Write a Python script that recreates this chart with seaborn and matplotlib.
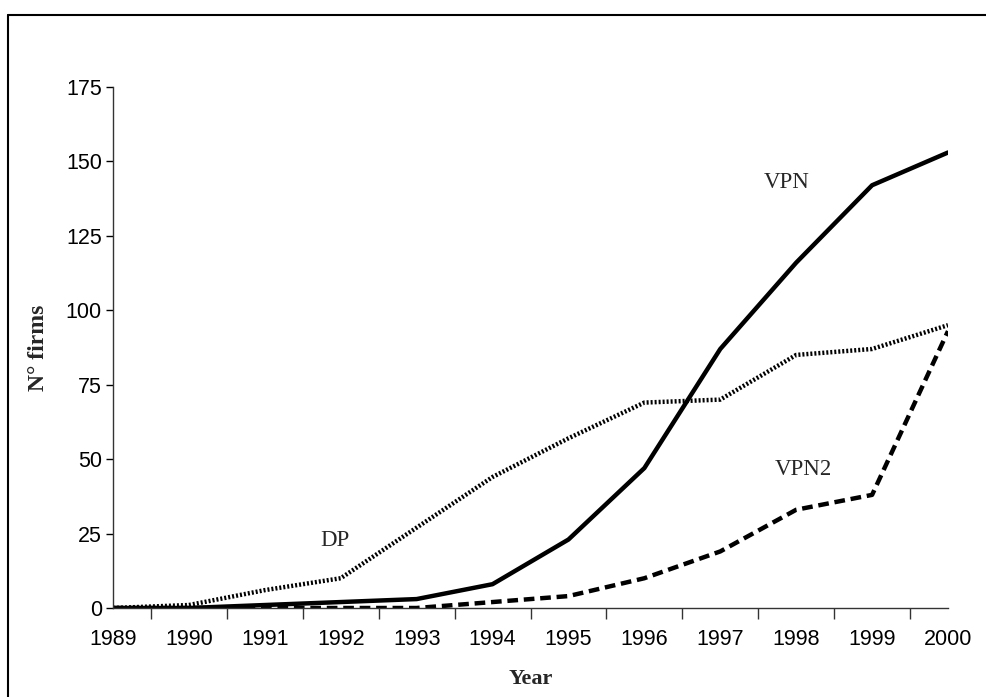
import matplotlib.pyplot as plt
import numpy as np
import pandas as pd
import seaborn as sns
from matplotlib.lines import Line2D
from matplotlib.ticker import MultipleLocator

# values
years = list(range(1989, 2001))
vpn = [0, 0, 1, 2, 3, 8, 23, 47, 87, 116, 142, 153]
dp = [0, 1, 6, 10, 27, 44, 57, 69, 70, 85, 87, 95]
vpn2 = [0, 0, 0, 0, 0, 2, 4, 10, 19, 33, 38, 93]
y_ticks = [0, 25, 50, 75, 100, 125, 150, 175]

df = pd.DataFrame({"year": years, "VPN": vpn, "DP": dp, "VPN2": vpn2})

sns.set_theme(style="white")
plt.rcParams.update({"font.family": ["Liberation Sans", "DejaVu Sans"]})

fig = plt.figure(figsize=(9.86, 6.97), dpi=100)
ax = fig.add_axes([113 / 986, 1 - 608 / 697, (948 - 113) / 986, (608 - 87) / 697])

sns.lineplot(data=df, x="year", y="VPN", ax=ax, color="black", lw=3.2, linestyle="-")
sns.lineplot(data=df, x="year", y="DP", ax=ax, color="black", lw=3.2,
             linestyle=(0, (0.45, 0.45)), dash_capstyle="butt")
sns.lineplot(data=df, x="year", y="VPN2", ax=ax, color="black", lw=3.2,
             linestyle=(0, (2.4, 1.3)), dash_capstyle="butt")

ax.set_xlim(1989, 2000)
ax.set_ylim(0, 175)
ax.set_yticks(y_ticks)
ax.set_xticks(years)
ax.set_xticklabels([str(y) for y in years])
ax.xaxis.set_minor_locator(MultipleLocator(1, offset=0.5))
ax.tick_params(axis="x", which="major", length=0, labelsize=15.5, pad=15, colors="black")
ax.tick_params(axis="x", which="minor", length=8, width=1, color="#333333", bottom=True)
ax.tick_params(axis="y", length=5, width=1, labelsize=15.5, pad=3, colors="black", left=True)

for side in ["top", "right"]:
    ax.spines[side].set_visible(False)
for side in ["left", "bottom"]:
    ax.spines[side].set_color("#333333")
    ax.spines[side].set_linewidth(1)

serif = ["Liberation Serif", "DejaVu Serif"]
ax.set_xlabel("Year", family=serif, fontweight="bold", fontsize=16, labelpad=14)
ax.set_ylabel("N° firms", family=serif, fontweight="bold", fontsize=17, labelpad=12)

ax.text(1997.88, 143, "VPN", family=serif, fontsize=16.5, ha="center", va="center")
ax.text(1991.92, 22.8, "DP", family=serif, fontsize=16.5, ha="center", va="center")
ax.text(1998.1, 46.4, "VPN2", family=serif, fontsize=16.5, ha="center", va="center")

# outer frame (top and left edges visible in the reference)
fig.add_artist(Line2D([8 / 986, 1], [1 - 15 / 697] * 2, color="black", lw=1.5,
                      transform=fig.transFigure))
fig.add_artist(Line2D([8 / 986] * 2, [0, 1 - 15 / 697], color="black", lw=1.5,
                      transform=fig.transFigure))

fig.savefig("out.png", dpi=100)
